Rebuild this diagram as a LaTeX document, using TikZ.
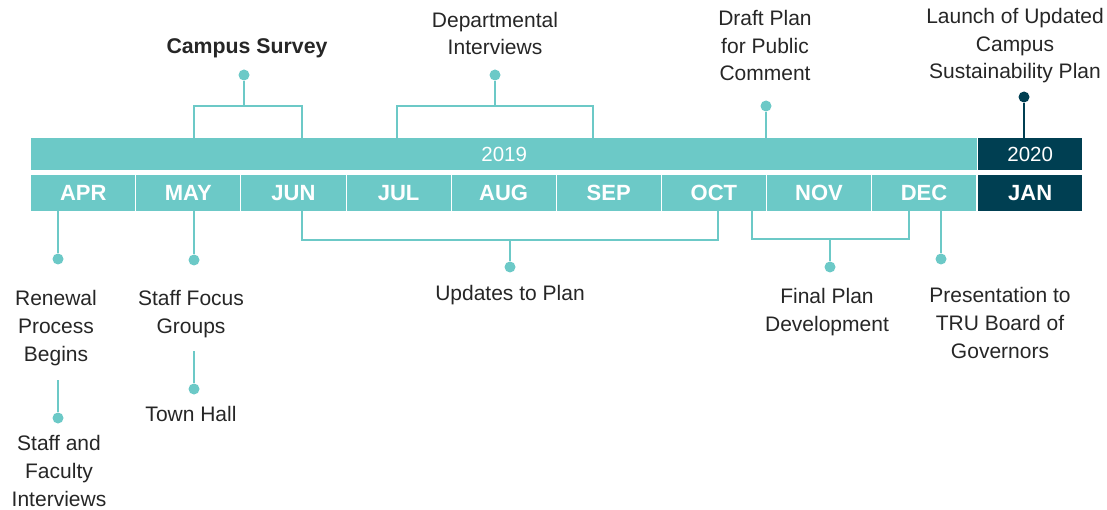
\documentclass[tikz,border=0pt]{standalone}
\usepackage{fontspec}
\setmainfont{Liberation Sans}
\definecolor{teal1}{HTML}{6CC9C7}
\definecolor{navy}{HTML}{003F52}
\definecolor{txt}{HTML}{262626}
\begin{document}
\begin{tikzpicture}[x=1pt,y=-1pt,
  dot/.style={circle, fill=teal1, inner sep=0pt, minimum size=11pt},
  navydot/.style={circle, fill=navy, inner sep=0pt, minimum size=11pt},
  conn/.style={draw=teal1, line width=1.6pt},
  navyconn/.style={draw=navy, line width=1.6pt},
  lbl/.style={font=\fontsize{21}{27.7}\selectfont, text=txt, align=center, inner sep=0pt, anchor=base},
  yearbox/.style={inner sep=0pt, minimum height=32pt, text=white, font=\fontsize{20.5}{20.5}\selectfont, anchor=north west},
  monthbox/.style={inner sep=0pt, minimum height=36pt, minimum width=104.1pt, text=white, font=\fontsize{22}{22}\selectfont\bfseries, anchor=north west}
]
\useasboundingbox (0,0) rectangle (1107,510);
% year bars
\node[yearbox, fill=teal1, minimum width=946pt] (y2019) at (31,138) {2019};
\node[yearbox, fill=navy, minimum width=104pt] (y2020) at (978,138) {2020};
% months
\foreach \m [count=\i from 0] in {APR,MAY,JUN,JUL,AUG,SEP,OCT,NOV,DEC}{
  \node[monthbox, fill=teal1] (m\m) at ({31+105.1*\i},175) {\m};
}
\node[monthbox, fill=navy, minimum width=104pt] (mJAN) at (978,175) {JAN};

% ---- top annotations
% Campus Survey
\node[dot] (d1) at (244,75) {};
\coordinate (b1) at (244,106);
\coordinate (b1l) at (194,138);
\coordinate (b1r) at (302,138);
\draw[conn] (b1l) |- (b1) -| (b1r);
\draw[conn] (d1) -- (b1);
\node[lbl, font=\fontsize{21.3}{27.7}\selectfont\bfseries] (t1) at (247,54) {Campus Survey};
% Departmental Interviews
\node[dot] (d2) at (495,75) {};
\coordinate (b2) at (495,106);
\coordinate (b2l) at (397,138);
\coordinate (b2r) at (593,138);
\draw[conn] (b2l) |- (b2) -| (b2r);
\draw[conn] (d2) -- (b2);
\node[lbl] (t2) at (495,55) {Departmental\\Interviews};
% Draft Plan
\node[dot] (d3) at (766,106) {};
\coordinate (b3) at (766,138);
\draw[conn] (d3) -- (b3);
\node[lbl] (t3) at (765,81) {Draft Plan\\for Public\\Comment};
% Launch
\node[navydot] (d4) at (1024,97) {};
\coordinate (b4) at (1024,138);
\draw[navyconn] (d4) -- (b4);
\node[lbl] (t4) at (1015,79) {Launch of Updated\\Campus\\Sustainability Plan};

% ---- bottom annotations
% Renewal
\coordinate (a5) at (58,211);
\node[dot] (d5) at (58,259) {};
\draw[conn] (a5) -- (d5);
\node[lbl] (t5) at (56,361) {Renewal\\Process\\Begins};
% Staff and Faculty
\coordinate (a6) at (58,380);
\node[dot] (d6) at (58,418) {};
\draw[conn] (a6) -- (d6);
\node[lbl] (t6) at (59,506) {Staff and\\Faculty\\Interviews};
% Staff Focus Groups
\coordinate (a7) at (194,211);
\node[dot] (d7) at (194,260) {};
\draw[conn] (a7) -- (d7);
\node[lbl] (t7) at (191,333) {Staff Focus\\Groups};
% Town Hall
\coordinate (a8) at (194,351);
\node[dot] (d8) at (194,389) {};
\draw[conn] (a8) -- (d8);
\node[lbl] (t8) at (191,421) {Town Hall};
% Updates to Plan
\coordinate (u1) at (302,211);
\coordinate (u2) at (718,211);
\coordinate (ub) at (510,240);
\node[dot] (d9) at (510,267) {};
\draw[conn] (u1) |- (ub) -| (u2);
\draw[conn] (ub) -- (d9);
\node[lbl] (t9) at (510,301) {Updates to Plan};
% Final Plan Development
\coordinate (f1) at (752,211);
\coordinate (f2) at (909,211);
\coordinate (fb) at (830,239);
\node[dot] (d10) at (830,267) {};
\draw[conn] (f1) |- (fb) -| (f2);
\draw[conn] (fb) -- (d10);
\node[lbl] (t10) at (827,331) {Final Plan\\Development};
% Presentation
\coordinate (a11) at (941,211);
\node[dot] (d11) at (941,259) {};
\draw[conn] (a11) -- (d11);
\node[lbl] (t11) at (1000,358) {Presentation to\\TRU Board of\\Governors};
\end{tikzpicture}
\end{document}
